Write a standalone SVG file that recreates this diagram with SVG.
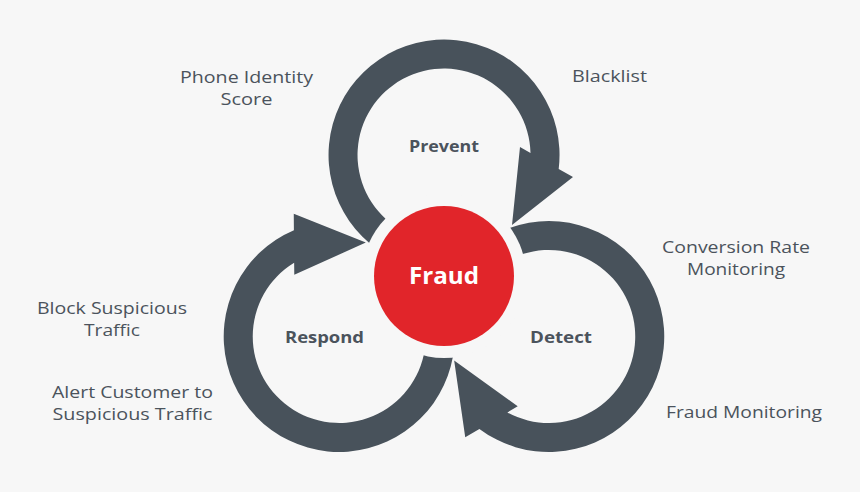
<svg xmlns="http://www.w3.org/2000/svg" width="860" height="492" viewBox="0 0 860 492">
<defs>
<style>
.bg{fill:#f7f7f7}
.arrow{fill:#48525b}
.lbl{font-family:"Open Sans","Liberation Sans",sans-serif;font-size:17px;font-weight:500;fill:#4b535c;text-anchor:middle}
.stage{font-family:"Open Sans","Liberation Sans",sans-serif;font-size:16px;font-weight:700;fill:#4b535c;text-anchor:middle}
.core{font-family:"Open Sans","Liberation Sans",sans-serif;font-size:24px;font-weight:700;fill:#ffffff;text-anchor:middle}
</style>
<path id="cyc" class="arrow" d="M 377.75 249.6 A 115.5 115.5 0 1 1 558.7 168.9 L 573 177 L 512 225 L 520 147 L 530.5 152.9 A 86.5 86.5 0 1 0 394.4 225.9 Z"/>
</defs>
<rect class="bg" x="0" y="0" width="860" height="492"/>
<g id="connectors">
<use href="#cyc"/>
<use href="#cyc" transform="rotate(120 444 276)"/>
<use href="#cyc" transform="rotate(240 444 276)"/>
</g>
<g id="fraud">
<circle class="bg" cx="444" cy="276" r="82"/>
<circle cx="444" cy="276" r="70" fill="#e1252a"/>
<text class="core" x="444" y="284" textLength="70" lengthAdjust="spacingAndGlyphs">Fraud</text>
</g>
<g id="prevent"><text class="stage" x="444" y="152" textLength="70" lengthAdjust="spacingAndGlyphs">Prevent</text></g>
<g id="detect"><text class="stage" x="561" y="343" textLength="62" lengthAdjust="spacingAndGlyphs">Detect</text></g>
<g id="respond"><text class="stage" x="324.5" y="343" textLength="79" lengthAdjust="spacingAndGlyphs">Respond</text></g>
<g id="phone-identity">
<text class="lbl" x="246.5" y="83" textLength="133" lengthAdjust="spacingAndGlyphs">Phone Identity</text>
<text class="lbl" x="246.5" y="105" textLength="52" lengthAdjust="spacingAndGlyphs">Score</text>
</g>
<g id="blacklist"><text class="lbl" x="609.5" y="82" textLength="75" lengthAdjust="spacingAndGlyphs">Blacklist</text></g>
<g id="conversion-rate">
<text class="lbl" x="736" y="253" textLength="148" lengthAdjust="spacingAndGlyphs">Conversion Rate</text>
<text class="lbl" x="736" y="275" textLength="98" lengthAdjust="spacingAndGlyphs">Monitoring</text>
</g>
<g id="fraud-monitoring"><text class="lbl" x="744" y="418" textLength="156" lengthAdjust="spacingAndGlyphs">Fraud Monitoring</text></g>
<g id="block">
<text class="lbl" x="112" y="314" textLength="150" lengthAdjust="spacingAndGlyphs">Block Suspicious</text>
<text class="lbl" x="112" y="336" textLength="56" lengthAdjust="spacingAndGlyphs">Traffic</text>
</g>
<g id="alert">
<text class="lbl" x="132.5" y="398" textLength="161" lengthAdjust="spacingAndGlyphs">Alert Customer to</text>
<text class="lbl" x="132.5" y="420" textLength="160" lengthAdjust="spacingAndGlyphs">Suspicious Traffic</text>
</g>
</svg>
